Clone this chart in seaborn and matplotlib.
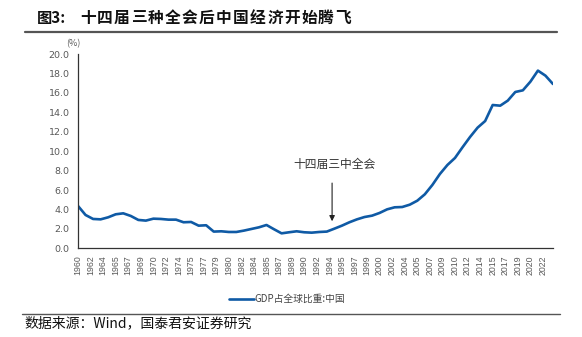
import numpy as np
import pandas as pd
import matplotlib
matplotlib.use("Agg")
import matplotlib.pyplot as plt
import seaborn as sns

years = list(range(1960, 2024))
share = [4.36, 3.43, 3.02, 2.98, 3.19, 3.50, 3.60, 3.33, 2.92, 2.85,
         3.05, 3.02, 2.95, 2.95, 2.68, 2.71, 2.33, 2.37, 1.72, 1.75,
         1.68, 1.68, 1.82, 1.99, 2.16, 2.40, 1.96, 1.54, 1.65, 1.75,
         1.65, 1.61, 1.68, 1.72, 2.02, 2.33, 2.68, 2.98, 3.22, 3.36,
         3.64, 4.01, 4.22, 4.25, 4.49, 4.90, 5.56, 6.52, 7.65, 8.58,
         9.30, 10.40, 11.46, 12.42, 13.10, 14.75, 14.68, 15.20, 16.09, 16.26,
         17.15, 18.29, 17.77, 16.91]
tick_labels = ["1960", "1962", "1964", "1965", "1967", "1969", "1970", "1972",
               "1974", "1975", "1977", "1979", "1980", "1982", "1984", "1985",
               "1987", "1989", "1990", "1992", "1994", "1995", "1997", "1999",
               "2000", "2002", "2004", "2005", "2007", "2009", "2010", "2012",
               "2014", "2015", "2017", "2019", "2020", "2022"]
y_ticks = [0, 2, 4, 6, 8, 10, 12, 14, 16, 18, 20]
series_name = "GDP占全球比重:中国"
title_prefix = "图3:"
title_body = "十四届三种全会后中国经济开始腾飞"
source = "数据来源：Wind，国泰君安证券研究"
annot_text = "十四届三中全会"
annot_year = 1993.7
annot_value = 2.5

df = pd.DataFrame({"year": years, "value": share})

sns.set_theme(style="white")
plt.rcParams['font.family'] = ['Noto Sans CJK SC', 'DejaVu Sans']

fig = plt.figure(figsize=(5.82, 3.37), dpi=100)
ax = fig.add_axes([78/582, 1-248.3/337, (553-78)/582, (248.3-54)/337])

sns.lineplot(data=df, x="year", y="value", ax=ax, color="#0F5AA5",
             linewidth=1.9, label=series_name, legend=False)
for l in ax.lines:
    l.set_solid_joinstyle("round")
    l.set_solid_capstyle("round")

ax.set_xlim(1960, 2023)
ax.set_ylim(0, 20)
tick_pos = [1960 + k * 20 / 12 for k in range(len(tick_labels))]
ax.set_xticks(tick_pos)
ax.set_xticklabels(tick_labels, rotation=90, fontsize=6.3, color="#595959",
                   family=['Liberation Sans', 'DejaVu Sans'])
ax.set_yticks(y_ticks)
ax.set_yticklabels([f"{v:.1f}" for v in y_ticks], fontsize=6.8, color="#595959",
                   family=['DejaVu Sans'])
ax.tick_params(axis="x", direction="out", length=3, width=0.8, color="#333333", pad=2)
ax.tick_params(axis="y", direction="in", length=3, width=0.8, color="#333333", pad=6)
ax.set_xlabel("")
ax.set_ylabel("")
for s in ["top", "right"]:
    ax.spines[s].set_visible(False)
for s in ["left", "bottom"]:
    ax.spines[s].set_color("#333333")
    ax.spines[s].set_linewidth(0.9)

ax.text(-0.01, 1.03, "(%)", transform=ax.transAxes, fontsize=6.5,
        color="#595959", ha="center", va="bottom")

ax.annotate("", xy=(annot_year, annot_value), xytext=(annot_year, 7.0),
            arrowprops=dict(arrowstyle="-|>", color="#222222", lw=0.8,
                            mutation_scale=8))
ax.text(annot_year + 0.3, 8.6, annot_text, ha="center", va="center", fontsize=8.5,
        color="#333333")

# legend
leg = ax.legend(loc="upper center", bbox_to_anchor=(0.44, -0.19), frameon=False,
                handlelength=2.6, handletextpad=0.1,
                prop={'family': ['Noto Sans CJK SC', 'DejaVu Sans'], 'size': 7})
for t in leg.get_texts():
    t.set_color("#444444")

# title (spaced characters) & source with rules
fig.text(37/582, 1-17.5/337, title_prefix, fontsize=11, fontweight="bold",
         color="#111111", ha="left", va="center")
for i, ch in enumerate(title_body):
    fig.text((80 + i * 17.0) / 582, 1-17.5/337, ch, fontsize=11.3,
             fontweight="bold", color="#111111", ha="left", va="center")
fig.add_artist(plt.Line2D([25/582, 557/582], [1-31.5/337, 1-31.5/337],
                          color="#555555", linewidth=1.6, transform=fig.transFigure))
fig.add_artist(plt.Line2D([22/582, 560/582], [1-313.5/337, 1-313.5/337],
                          color="#555555", linewidth=1.0, transform=fig.transFigure))
fig.text(24/582, 1-323/337, source, fontsize=10, color="#111111",
         ha="left", va="center")

fig.savefig("out.png", dpi=100)
